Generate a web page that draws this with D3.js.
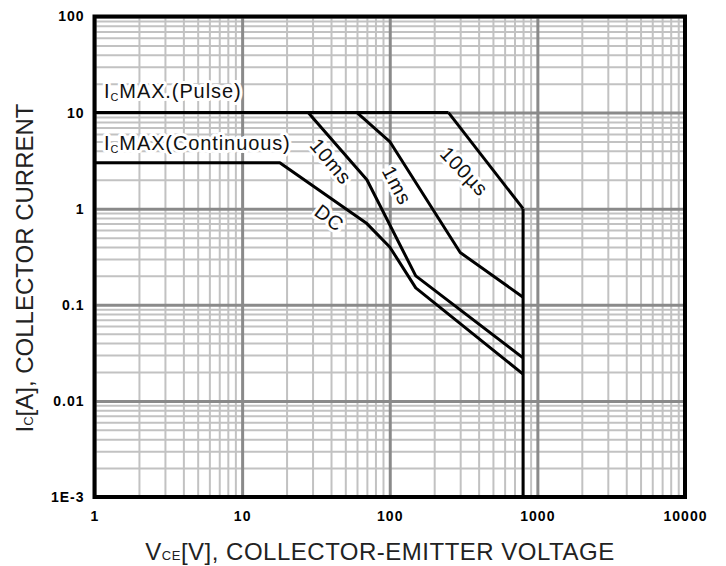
<!DOCTYPE html>
<html>
<head>
<meta charset="utf-8">
<script src="https://cdn.jsdelivr.net/npm/d3@7"></script>
<style>
  html, body { margin: 0; padding: 0; background: #fff; }
  svg { display: block; }
</style>
</head>
<body>
<svg id="chart" width="726" height="566"></svg>
<script>
// ---- data (VCE in volts, IC in amperes) ----
const xTickValues = [1, 10, 100, 1000, 10000];
const xTickLabels = ["1", "10", "100", "1000", "10000"];
const yTickValues = [0.001, 0.01, 0.1, 1, 10, 100];
const yTickLabels = ["1E-3", "0.01", "0.1", "1", "10", "100"];

const icMaxPulseV = [1, 250];
const icMaxPulseI = [10, 10];
const dcV = [1, 18, 70, 100, 150, 800];
const dcI = [3, 3, 0.7, 0.4, 0.15, 0.019];
const ms10V = [28, 70, 150, 800];
const ms10I = [10, 2, 0.2, 0.028];
const ms1V = [60, 100, 300, 800];
const ms1I = [10, 5, 0.35, 0.12];
const us100V = [250, 800];
const us100I = [10, 1];
const vceMaxV = [800, 800];
const vceMaxI = [1, 0.001];

const curves = [icMaxPulseV, dcV, ms10V, ms1V, us100V, vceMaxV].map((v, k) => {
  const ii = [icMaxPulseI, dcI, ms10I, ms1I, us100I, vceMaxI][k];
  return v.map((x, j) => [x, ii[j]]);
});

// ---- layout ----
const L = 94.5, R = 685, T = 16.5, B = 497;
const svg = d3.select("#chart");
const x = d3.scaleLog().domain([1, 10000]).range([L, R]);
const y = d3.scaleLog().domain([0.001, 100]).range([B, T]);

// grid
const minorX = [], minorY = [];
for (let e = 0; e < 4; e++) for (let m = 2; m <= 9; m++) minorX.push(m * Math.pow(10, e));
for (let e = -3; e < 2; e++) for (let m = 2; m <= 9; m++) minorY.push(+(m * Math.pow(10, e)).toPrecision(3));

const grid = svg.append("g");
grid.append("g").call(d3.axisBottom(x).tickValues(minorX).tickSize(-(B - T)).tickFormat(""))
  .attr("transform", `translate(0,${B})`)
  .call(g => g.select(".domain").remove())
  .call(g => g.selectAll("line").attr("stroke", "#c2c2c2").attr("stroke-width", 2));
grid.append("g").call(d3.axisLeft(y).tickValues(minorY).tickSize(-(R - L)).tickFormat(""))
  .attr("transform", `translate(${L},0)`)
  .call(g => g.select(".domain").remove())
  .call(g => g.selectAll("line").attr("stroke", "#c2c2c2").attr("stroke-width", 2));
grid.append("g").call(d3.axisBottom(x).tickValues(xTickValues).tickSize(-(B - T)).tickFormat(""))
  .attr("transform", `translate(0,${B})`)
  .call(g => g.select(".domain").remove())
  .call(g => g.selectAll("line").attr("stroke", "#8a8a8a").attr("stroke-width", 3));
grid.append("g").call(d3.axisLeft(y).tickValues(yTickValues).tickSize(-(R - L)).tickFormat(""))
  .attr("transform", `translate(${L},0)`)
  .call(g => g.select(".domain").remove())
  .call(g => g.selectAll("line").attr("stroke", "#8a8a8a").attr("stroke-width", 3));

// curves
const line = d3.line().x(d => x(d[0])).y(d => y(d[1]));
svg.append("g").selectAll("path").data(curves).join("path")
  .attr("d", line).attr("fill", "none").attr("stroke", "#000")
  .attr("stroke-width", 3).attr("stroke-linejoin", "round");

// frame
svg.append("rect").attr("x", L).attr("y", T).attr("width", R - L).attr("height", B - T)
  .attr("fill", "none").attr("stroke", "#000").attr("stroke-width", 4);

// tick labels
const tickFont = "'Liberation Sans', Arial, sans-serif";
svg.append("g").call(d3.axisBottom(x).tickValues(xTickValues).tickSize(0).tickPadding(0)
    .tickFormat((d, i) => xTickLabels[i]))
  .attr("transform", `translate(0,${B + 14})`)
  .call(g => g.select(".domain").remove())
  .call(g => g.selectAll("text").attr("font-family", tickFont).attr("font-size", 14)
    .attr("font-weight", "bold").attr("letter-spacing", 1).attr("fill", "#000").attr("dy", "0.71em"));
svg.append("g").call(d3.axisLeft(y).tickValues(yTickValues).tickSize(0).tickPadding(0)
    .tickFormat((d, i) => yTickLabels[i]))
  .attr("transform", `translate(${L - 10},0)`)
  .call(g => g.select(".domain").remove())
  .call(g => g.selectAll("text").attr("font-family", tickFont).attr("font-size", 14)
    .attr("font-weight", "bold").attr("letter-spacing", 1).attr("fill", "#000"));

// axis titles
const titleFont = "'Liberation Sans', Arial, sans-serif";
const xt = svg.append("text").attr("x", 380).attr("y", 560).attr("text-anchor", "middle")
  .attr("font-family", titleFont).attr("font-size", 24).attr("letter-spacing", 0.5).attr("fill", "#222");
xt.append("tspan").text("V");
xt.append("tspan").attr("font-size", 13).text("CE");
xt.append("tspan").text("[V], COLLECTOR-EMITTER VOLTAGE");

const yt = svg.append("text").attr("transform", "translate(33,268) rotate(-90)").attr("text-anchor", "middle")
  .attr("font-family", titleFont).attr("font-size", 24).attr("fill", "#222");
yt.append("tspan").text("I");
yt.append("tspan").attr("font-size", 13).text("C");
yt.append("tspan").text("[A], COLLECTOR CURRENT");

// curve labels
function halo(sel) {
  return sel.attr("font-family", titleFont).attr("font-size", 20).attr("letter-spacing", 0.9)
    .attr("fill", "#111")
    .attr("stroke", "#fff").attr("stroke-width", 6).attr("stroke-linejoin", "round")
    .attr("paint-order", "stroke");
}
const p1 = halo(svg.append("text").attr("x", 104).attr("y", 98));
p1.append("tspan").text("I");
p1.append("tspan").attr("font-size", 11).attr("dy", 3).text("C");
p1.append("tspan").attr("dy", -3).text("MAX.(Pulse)");
const p2 = halo(svg.append("text").attr("x", 104).attr("y", 150));
p2.append("tspan").text("I");
p2.append("tspan").attr("font-size", 11).attr("dy", 3).text("C");
p2.append("tspan").attr("dy", -3).text("MAX(Continuous)");

const tagText = ["10ms", "1ms", "100µs", "DC"];
const tagAt = [[40, 3.1], [112, 1.75], [320, 2.45], [39, 0.8]];
const tagAngle = [50, 62, 46, 37];
tagText.forEach((t, i) => {
  halo(svg.append("text"))
    .attr("transform", `translate(${x(tagAt[i][0])},${y(tagAt[i][1])}) rotate(${tagAngle[i]})`)
    .attr("text-anchor", "middle").attr("dy", "0.35em").text(t);
});
</script>
</body>
</html>
